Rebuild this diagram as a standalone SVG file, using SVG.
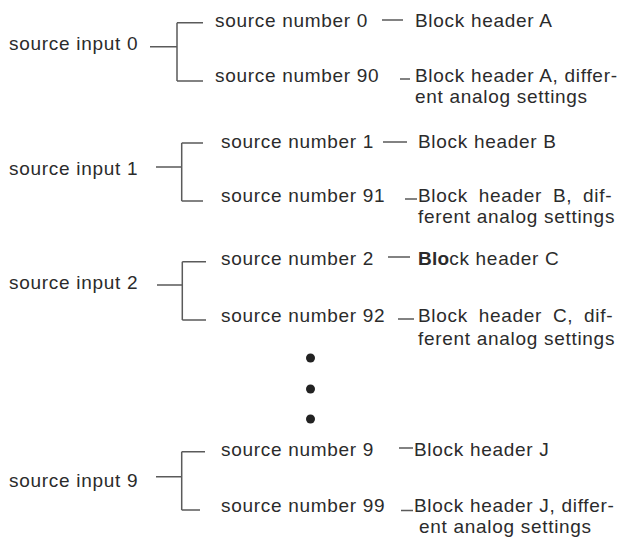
<svg xmlns="http://www.w3.org/2000/svg" width="618" height="543" viewBox="0 0 618 543">
<style>
text{font-family:"Liberation Sans",Arial,sans-serif;font-size:19px;fill:#2b2b2b;letter-spacing:0.7px}
.c{fill:none;stroke:#5a5a5a;stroke-width:1.5}
.d{fill:#222}
</style>
<rect width="618" height="543" fill="#fff"/>
<g id="connectors">
<path class="c" d="M150 46.7H177M177 22.7V81M177 22.7H203M177 81H203"/>
<path class="c" d="M156 167H181.7M181.7 143V201M181.7 143H203M181.7 201H203"/>
<path class="c" d="M157 285H182.3M182.3 261.7V320M182.3 261.7H206M182.3 320H206"/>
<path class="c" d="M156 476.7H181.7M181.7 451.7V510M181.7 451.7H205M181.7 510H200"/>
<path class="c" d="M382 20H403M400 79H410"/>
<path class="c" d="M383 142H407M405 199H417"/>
<path class="c" d="M388 257H410M398 319H414"/>
<path class="c" d="M399 448H413M401 510.5H413"/>
</g>
<g id="input0"><text x="9" y="50">source input 0</text></g>
<g id="num0"><text x="215" y="27">source number 0</text></g>
<g id="hdrA"><text x="415" y="27">Block header A</text></g>
<g id="num90"><text x="215" y="82">source number 90</text></g>
<g id="hdrA2"><text x="415" y="82">Block header A, differ-</text><text x="415" y="103">ent analog settings</text></g>

<g id="input1"><text x="9" y="175">source input 1</text></g>
<g id="num1"><text x="221" y="148">source number 1</text></g>
<g id="hdrB"><text x="418" y="148">Block header B</text></g>
<g id="num91"><text x="221" y="202">source number 91</text></g>
<g id="hdrB2"><text x="418" y="202" word-spacing="4.8">Block header B, dif-</text><text x="418" y="223">ferent analog settings</text></g>

<g id="input2"><text x="9" y="289">source input 2</text></g>
<g id="num2"><text x="221" y="265">source number 2</text></g>
<g id="hdrC"><text x="418" y="265"><tspan font-weight="bold" letter-spacing="0.2">Blo</tspan>ck header C</text></g>
<g id="num92"><text x="221" y="322">source number 92</text></g>
<g id="hdrC2"><text x="418" y="322" word-spacing="4.8">Block header C, dif-</text><text x="418" y="345">ferent analog settings</text></g>

<g id="ellipsis">
<circle class="d" cx="310.5" cy="358" r="4.5"/>
<circle class="d" cx="310.5" cy="389" r="4.5"/>
<circle class="d" cx="310.5" cy="419" r="4.5"/>
</g>

<g id="input9"><text x="9" y="487">source input 9</text></g>
<g id="num9"><text x="221" y="456">source number 9</text></g>
<g id="hdrJ"><text x="414" y="456">Block header J</text></g>
<g id="num99"><text x="221" y="512">source number 99</text></g>
<g id="hdrJ2"><text x="414" y="512">Block header J, differ-</text><text x="419" y="533">ent analog settings</text></g>
</svg>
